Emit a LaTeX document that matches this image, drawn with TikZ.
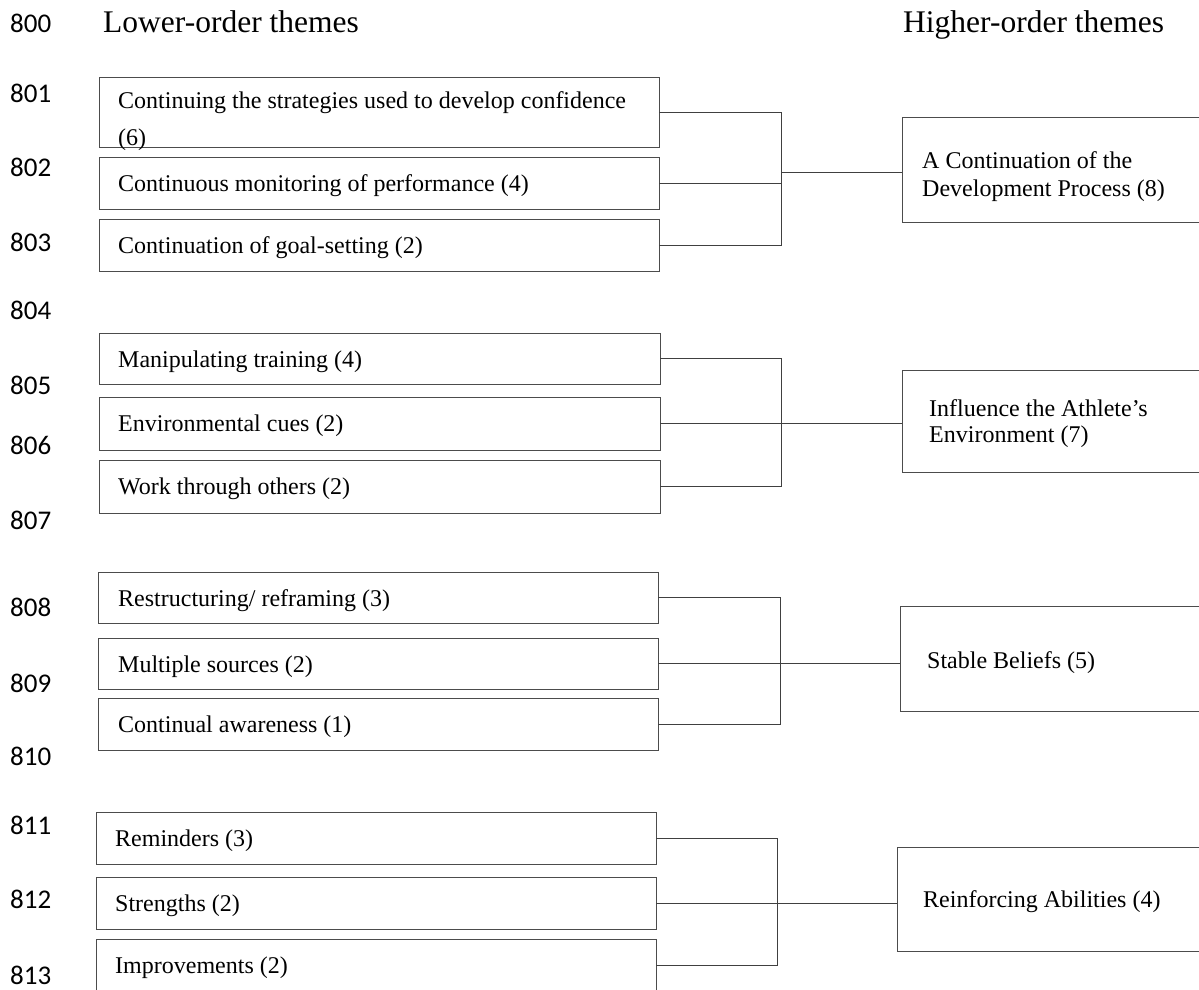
\documentclass[tikz,border=0pt]{standalone}
\usepackage{fontspec}
\setmainfont{Liberation Serif}
\newfontfamily\numfont{Carlito}
\begin{document}
\begin{tikzpicture}[x=1pt,y=-1pt,
  lbox/.style={draw=black!70, line width=1pt, inner sep=0pt, outer sep=0pt, rectangle},
  txt/.style={anchor=base west, inner sep=0pt, font=\fontsize{24}{28}\selectfont},
  num/.style={anchor=base west, inner sep=0pt, font=\numfont\fontsize{27}{30}\selectfont},
  ttl/.style={anchor=base west, inner sep=0pt, font=\fontsize{31.5}{36}\selectfont},
  conn/.style={draw=black!75, line width=1pt}]
\useasboundingbox (0,0) rectangle (1199,990);

% titles
\node[num] (n800) at (10,33) {800};
\node[ttl] (tl) at (103,33) {Lower-order themes};
\node[ttl] (th) at (903,33) {Higher-order themes};

% line numbers
\node[num] (n801) at (10,102) {801};
\node[num] (n802) at (10,176) {802};
\node[num] (n803) at (10,251) {803};
\node[num] (n804) at (10,319) {804};
\node[num] (n805) at (10,394) {805};
\node[num] (n806) at (10,454) {806};
\node[num] (n807) at (10,529) {807};
\node[num] (n808) at (10,616) {808};
\node[num] (n809) at (10,692) {809};
\node[num] (n810) at (10,765) {810};
\node[num] (n811) at (10,834) {811};
\node[num] (n812) at (10,908) {812};
\node[num] (n813) at (10,984) {813};

% group 1
\node[lbox, minimum width=560, minimum height=70] (b11) at (379,112) {};
\node[lbox, minimum width=560, minimum height=52] (b12) at (379,183) {};
\node[lbox, minimum width=560, minimum height=52] (b13) at (379,245) {};
\node[txt] (t11a) at (118,108) {Continuing the strategies used to develop confidence};
\node[txt] (t11b) at (118,145) {(6)};
\node[txt] (t12) at (118,191) {Continuous monitoring of performance (4)};
\node[txt] (t13) at (118,253) {Continuation of goal-setting (2)};
\node[lbox, minimum width=310, minimum height=105] (h1) at (1057,169.5) {};
\node[txt] (th1a) at (922,168) {A Continuation of the};
\node[txt] (th1b) at (922,196) {Development Process (8)};
\coordinate (j1) at (781,172);
\draw[conn] (b11.east) -| (j1);
\draw[conn] (b13.east) -| (j1);
\draw[conn] (b12.east) -- (b12.east -| j1);
\draw[conn] (j1) -- (j1 -| h1.west);

% group 2
\node[lbox, minimum width=561, minimum height=51] (b21) at (379.5,358.5) {};
\node[lbox, minimum width=561, minimum height=53] (b22) at (379.5,423.5) {};
\node[lbox, minimum width=561, minimum height=53] (b23) at (379.5,486.5) {};
\node[txt] (t21) at (118,367) {Manipulating training (4)};
\node[txt] (t22) at (118,431) {Environmental cues (2)};
\node[txt] (t23) at (118,494) {Work through others (2)};
\node[lbox, minimum width=310, minimum height=102] (h2) at (1057,421) {};
\node[txt] (th2a) at (929,416) {Influence the Athlete’s};
\node[txt] (th2b) at (929,442) {Environment (7)};
\coordinate (j2) at (781,423.5);
\draw[conn] (b21.east) -| (j2);
\draw[conn] (b23.east) -| (j2);
\draw[conn] (b22.east) -- (b22.east -| h2.west);

% group 3
\node[lbox, minimum width=560, minimum height=51] (b31) at (378,597.5) {};
\node[lbox, minimum width=560, minimum height=51] (b32) at (378,663.5) {};
\node[lbox, minimum width=560, minimum height=52] (b33) at (378,724) {};
\node[txt] (t31) at (118,606) {Restructuring/ reframing (3)};
\node[txt] (t32) at (118,672) {Multiple sources (2)};
\node[txt] (t33) at (118,732) {Continual awareness (1)};
\node[lbox, minimum width=312, minimum height=105] (h3) at (1056,658.5) {};
\node[txt] (th3) at (927,668) {Stable Beliefs (5)};
\coordinate (j3) at (780,663.5);
\draw[conn] (b31.east) -| (j3);
\draw[conn] (b33.east) -| (j3);
\draw[conn] (b32.east) -- (b32.east -| h3.west);

% group 4
\node[lbox, minimum width=560, minimum height=52] (b41) at (376,838) {};
\node[lbox, minimum width=560, minimum height=52] (b42) at (376,903) {};
\node[lbox, minimum width=560, minimum height=53] (b43) at (376,965.5) {};
\node[txt] (t41) at (115,846) {Reminders (3)};
\node[txt] (t42) at (115,911) {Strengths (2)};
\node[txt] (t43) at (115,973) {Improvements (2)};
\node[lbox, minimum width=315, minimum height=104] (h4) at (1054.5,899) {};
\node[txt] (th4) at (923,907) {Reinforcing Abilities (4)};
\coordinate (j4) at (777,903);
\draw[conn] (b41.east) -| (j4);
\draw[conn] (b43.east) -| (j4);
\draw[conn] (b42.east) -- (b42.east -| h4.west);
\end{tikzpicture}
\end{document}
